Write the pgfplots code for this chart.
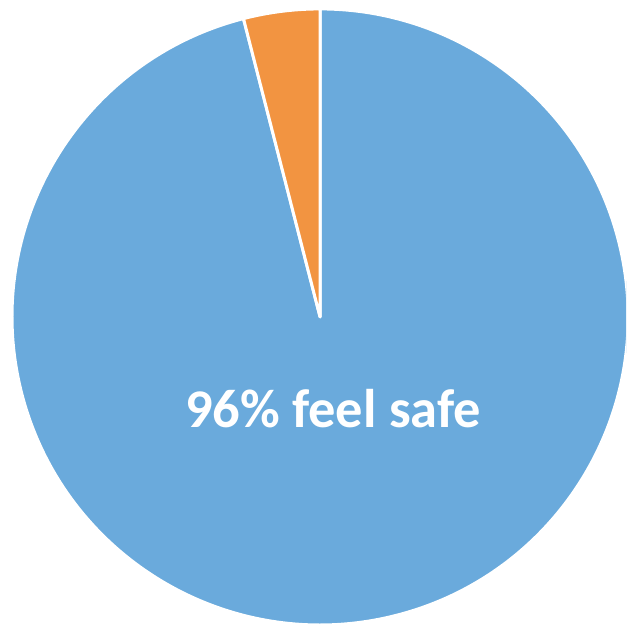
\documentclass[border=0pt]{standalone}
\usepackage{fontspec}
\setmainfont{Carlito}
\usepackage{pgfplots}
\usepackage{pgfplotstable}
\pgfplotsset{compat=1.18}
\definecolor{pieblue}{RGB}{106,170,220}
\definecolor{pieorange}{RGB}{242,148,65}
\pgfplotstableread{
label value
unsafe 4
safe 96
}\piedata
\begin{document}
\begin{tikzpicture}
\pgfplotstablegetelem{0}{value}\of\piedata
\pgfmathsetmacro\vA{\pgfplotsretval}
\pgfmathsetmacro\aA{90+3.6*\vA}
\pgfmathsetmacro\aB{450}
\begin{axis}[
  hide axis,
  scale only axis,
  x=0.02cm, y=0.02cm,
  xmin=0, xmax=626, ymin=0, ymax=627,
  clip=true,
]
\addplot[draw=none] coordinates {(0,0) (626,627)};
\filldraw[fill=pieblue, draw=white, line width=1.7pt, line join=round]
  (axis cs:320,310) -- ++(\aA:6.16cm) arc[start angle=\aA, end angle=\aB, radius=6.16cm] -- cycle;
\filldraw[fill=pieorange, draw=white, line width=1.7pt, line join=round]
  (axis cs:320,310) -- ++(90:6.16cm) arc[start angle=90, end angle=\aA, radius=6.16cm] -- cycle;
\node[anchor=base, text=white, font=\bfseries\fontsize{31}{36}\selectfont] at (axis cs:333,199) {96\% feel safe};
\end{axis}
\pgfresetboundingbox
\path[use as bounding box] (0,0) rectangle (12.52cm,12.54cm);
\end{tikzpicture}
\end{document}
